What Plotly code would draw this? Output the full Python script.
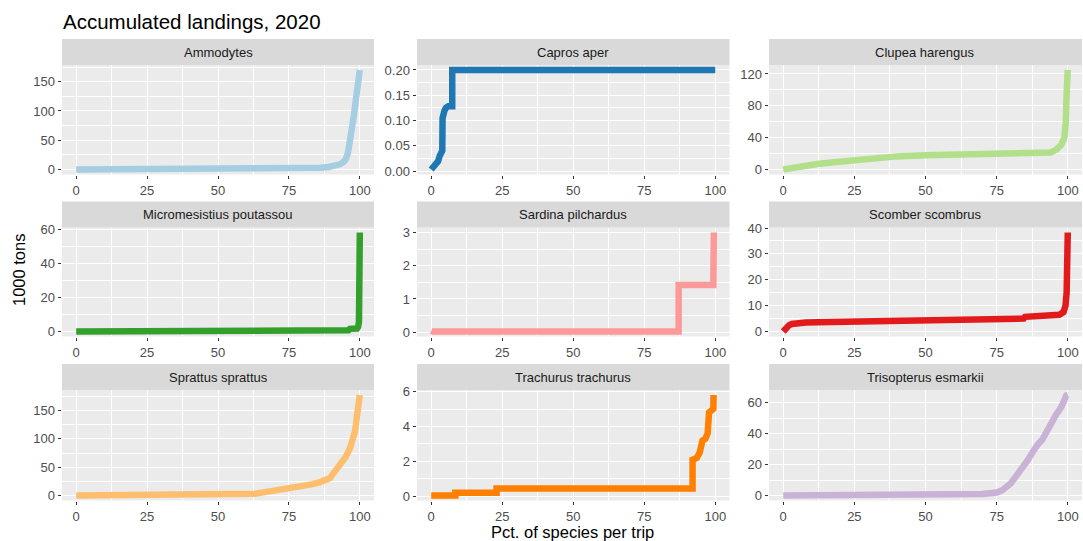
import plotly.graph_objects as go

# ---------------- data ----------------
species = ["Ammodytes", "Capros aper", "Clupea harengus",
           "Micromesistius poutassou", "Sardina pilchardus", "Scomber scombrus",
           "Sprattus sprattus", "Trachurus trachurus", "Trisopterus esmarkii"]

colors = ["#A6CEE3", "#1F78B4", "#B2DF8A", "#33A02C", "#FB9A99", "#E31A1C",
          "#FDBF6F", "#FF7F00", "#CAB2D6"]

x_ticks = [0, 25, 50, 75, 100]

ammodytes_pct = [0, 20, 40, 60, 75, 82, 86, 89, 91, 93, 94, 95, 95.8, 96.5, 97.2, 97.9, 98.5, 99.1, 99.6, 100]
ammodytes_kt = [0.1, 0.3, 0.5, 0.8, 1.2, 2, 3, 4.5, 6, 9, 12, 17, 28, 45, 68, 92, 115, 138, 158, 170]
ammodytes_ticks = [0, 50, 100, 150]

capros_pct = [0, 0.6, 1.2, 1.8, 2.4, 3.0, 3.5, 3.9, 4.0, 4.3, 4.7, 5.2, 6.0, 7.4, 7.4, 100]
capros_kt = [0.003, 0.006, 0.01, 0.014, 0.019, 0.03, 0.035, 0.04, 0.105, 0.115, 0.12, 0.125, 0.128, 0.128, 0.2, 0.2]
capros_ticks = [0.0, 0.05, 0.10, 0.15, 0.20]

clupea_pct = [0, 3, 6, 9, 12, 16, 20, 25, 30, 35, 40, 50, 60, 70, 80, 90, 94, 96, 97.7, 98.8, 99.3, 99.6, 100]
clupea_kt = [0, 2, 4, 5.5, 7, 8.5, 10, 11.5, 13.5, 15.5, 16.5, 18, 19, 20, 20.5, 21, 21.5, 25, 31, 40, 60, 95, 125]
clupea_ticks = [0, 40, 80, 120]

micromesistius_pct = [0, 20, 40, 60, 80, 90, 96, 96.5, 99, 99.4, 99.7, 100]
micromesistius_kt = [0.2, 0.3, 0.4, 0.5, 0.6, 0.7, 0.9, 1.8, 2.0, 3.0, 6, 58.4]
micromesistius_ticks = [0, 20, 40, 60]

sardina_pct = [0, 0.5, 87.1, 87.1, 99.3, 99.5]
sardina_kt = [0.04, 0.02, 0.02, 1.42, 1.42, 3.0]
sardina_ticks = [0, 1, 2, 3]

scomber_pct = [0, 0.5, 1, 2, 3, 5, 8, 12, 20, 30, 44, 45, 60, 75.5, 76, 84.5, 85, 95, 97, 98.5, 99.2, 99.6, 100]
scomber_kt = [0, 0.8, 1.6, 2.4, 2.9, 3.3, 3.5, 3.6, 3.7, 3.8, 3.9, 4.1, 4.2, 4.3, 4.9, 5.0, 5.7, 5.9, 6.5, 7.5, 10, 15, 38.3]
scomber_ticks = [0, 10, 20, 30, 40]

sprattus_pct = [0, 20, 40, 50, 60, 63, 66, 70, 75, 79, 83, 86, 88, 89.5, 90.5, 92, 93.5, 95, 96.5, 97.5, 98.3, 99, 99.5, 100]
sprattus_kt = [0.5, 1, 1.5, 2, 2.8, 3.5, 6, 9, 13, 16, 20, 24, 27, 31, 38, 48, 58, 68, 83, 98, 113, 140, 160, 177]
sprattus_ticks = [0, 50, 100, 150]

trachurus_pct = [0, 8.5, 8.5, 23, 23, 92, 92, 93.5, 94.5, 95.5, 96.5, 97.3, 97.8, 98.5, 99.3, 99.4]
trachurus_kt = [0.05, 0.05, 0.2, 0.2, 0.45, 0.45, 2.1, 2.2, 2.5, 3.2, 3.3, 3.6, 4.8, 4.9, 5.0, 5.8]
trachurus_ticks = [0, 2, 4, 6]

trisopterus_pct = [0, 20, 40, 55, 65, 70, 75, 77, 80, 83, 86, 88, 89, 89.5, 91, 93.5, 96, 97.7, 98.5, 99.0, 99.5, 100]
trisopterus_kt = [0.1, 0.2, 0.3, 0.4, 0.6, 1.0, 2.0, 3.5, 8, 15, 23, 29, 32, 33, 36, 45, 52.5, 57, 61, 63.5, 64.5, 64.8]
trisopterus_ticks = [0, 20, 40, 60]

series_pct = [ammodytes_pct, capros_pct, clupea_pct, micromesistius_pct, sardina_pct,
              scomber_pct, sprattus_pct, trachurus_pct, trisopterus_pct]
series_kt = [ammodytes_kt, capros_kt, clupea_kt, micromesistius_kt, sardina_kt,
             scomber_kt, sprattus_kt, trachurus_kt, trisopterus_kt]
series_ticks = [ammodytes_ticks, capros_ticks, clupea_ticks, micromesistius_ticks, sardina_ticks,
                scomber_ticks, sprattus_ticks, trachurus_ticks, trisopterus_ticks]

title_text = "Accumulated landings, 2020"
y_title = "1000 tons"
x_title = "Pct. of species per trip"

# ---------------- layout geometry (pixels) ----------------
W, H = 1083, 541
col_px = [(62, 374), (417, 729.5), (769, 1082)]
row_px = [(65, 174.5), (227.5, 336.5), (390, 500.5)]
strip_h = 26
FONT = "Liberation Sans, Arial, Helvetica, sans-serif"


def minor_vals(ticks, lo, hi):
    step = ticks[1] - ticks[0]
    ext = [ticks[0] - step] + list(ticks) + [ticks[-1] + step]
    mids = [(a + b) / 2 for a, b in zip(ext[:-1], ext[1:])]
    return [m for m in mids if lo <= m <= hi]


fig = go.Figure()
shapes, annotations = [], []
layout_axes = {}

for i, name in enumerate(species):
    r, c = divmod(i, 3)
    k = i + 1
    xa = "x" if k == 1 else f"x{k}"
    ya = "y" if k == 1 else f"y{k}"
    xs, ys, yt = series_pct[i], series_kt[i], series_ticks[i]

    fig.add_trace(go.Scatter(x=xs, y=ys, mode="lines",
                             line=dict(color=colors[i], width=6.5),
                             xaxis=xa, yaxis=ya, showlegend=False,
                             hoverinfo="skip"))

    lo, hi = min(ys), max(ys)
    span = hi - lo
    yr = [lo - 0.05 * span, hi + 0.05 * span]
    xr = [-5, 105]
    x0, x1 = col_px[c]
    y0, y1 = row_px[r]

    common = dict(showgrid=True, gridcolor="white", gridwidth=1.3,
                  zeroline=False, showline=False, ticks="outside",
                  ticklen=3.5, tickwidth=1, tickcolor="#333333",
                  tickfont=dict(family=FONT, size=13, color="#4D4D4D"),
                  automargin=False, fixedrange=True)

    layout_axes["xaxis" if k == 1 else f"xaxis{k}"] = dict(
        domain=[x0 / W, x1 / W], range=xr, anchor=ya,
        tickmode="array", tickvals=x_ticks, ticktext=[str(t) for t in x_ticks],
        minor=dict(tickmode="array", tickvals=minor_vals(x_ticks, *xr),
                   showgrid=True, gridcolor="white", gridwidth=0.6, ticks=""),
        **common)
    layout_axes["yaxis" if k == 1 else f"yaxis{k}"] = dict(
        domain=[1 - y1 / H, 1 - y0 / H], range=yr, anchor=xa,
        tickmode="array", tickvals=yt,
        tickformat=".2f" if i == 1 else "d",
        minor=dict(tickmode="array", tickvals=minor_vals(yt, *yr),
                   showgrid=True, gridcolor="white", gridwidth=0.6, ticks=""),
        **common)

    # facet strip
    shapes.append(dict(type="rect", xref="paper", yref="paper",
                       x0=x0 / W, x1=x1 / W,
                       y0=1 - y0 / H, y1=1 - (y0 - strip_h) / H,
                       fillcolor="#D9D9D9", line=dict(width=0), layer="below"))
    annotations.append(dict(text=name, xref="paper", yref="paper",
                            x=(x0 + x1) / 2 / W, y=1 - (y0 - strip_h / 2) / H,
                            xanchor="center", yanchor="middle", showarrow=False,
                            font=dict(family=FONT, size=13, color="#1A1A1A")))

annotations.append(dict(text=title_text, xref="paper", yref="paper",
                        x=61 / W, y=1 - 8 / H, xanchor="left", yanchor="top",
                        showarrow=False,
                        font=dict(family=FONT, size=20.5, color="black")))
annotations.append(dict(text=y_title, xref="paper", yref="paper",
                        x=19 / W, y=1 - 270 / H, xanchor="center", yanchor="middle",
                        textangle=-90, showarrow=False,
                        font=dict(family=FONT, size=16.5, color="black")))
annotations.append(dict(text=x_title, xref="paper", yref="paper",
                        x=572 / W, y=1 - 532 / H, xanchor="center", yanchor="middle",
                        showarrow=False,
                        font=dict(family=FONT, size=16.5, color="black")))

fig.update_layout(width=W, height=H, margin=dict(l=0, r=0, t=0, b=0),
                  paper_bgcolor="white", plot_bgcolor="#EBEBEB",
                  shapes=shapes, annotations=annotations,
                  font=dict(family=FONT), **layout_axes)

fig.write_html("out.html", config={"displayModeBar": False})
